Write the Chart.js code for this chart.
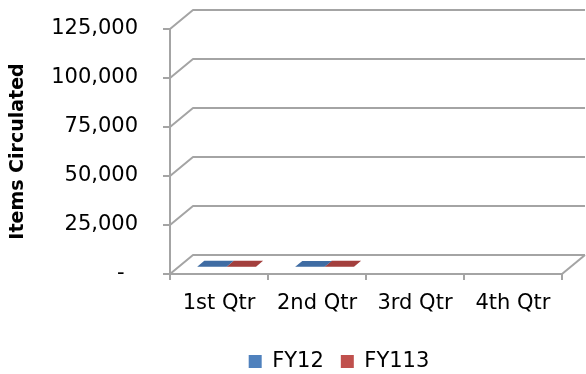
<!DOCTYPE html>
<html>
<head>
<meta charset="utf-8">
<script src="https://cdn.jsdelivr.net/npm/chart.js@4.4.1/dist/chart.umd.min.js"></script>
<style>
  html, body { margin: 0; padding: 0; background: #ffffff; }
  #wrap { width: 586px; height: 374px; }
</style>
</head>
<body>
<div id="wrap"><canvas id="chart" width="586" height="374"></canvas></div>
<script>
// Circulation per quarter
const quarters = ['1st Qtr', '2nd Qtr', '3rd Qtr', '4th Qtr'];
const fy12 = [520, 480, null, null];
const fy113 = [560, 500, null, null];
const seriesNames = ['FY12', 'FY113'];
const yTickValues = [0, 25000, 50000, 75000, 100000, 125000];
const yTickLabels = ['-  ', '25,000', '50,000', '75,000', '100,000', '125,000'];

// 3-D look: depth offset of the back wall and the slab the columns occupy
const DEPTH_X = 23;
const DEPTH_Y = -19;
const COL_FRONT = 0.33;
const COL_BACK = 0.64;
const GRID = '#a4a4a4';
const GRID_W = 2;
const FONT = 'DejaVu Sans';

const faceColors = [
  { front: '#4f81bd', top: '#3f6ca3', side: '#37608f' },
  { front: '#c0504d', top: '#a33f3d', side: '#8f3634' }
];

const wallPlugin = {
  id: 'wall3d',
  beforeDatasetsDraw(chart) {
    const { ctx, chartArea, scales } = chart;
    const y = scales.y;
    ctx.save();
    ctx.strokeStyle = GRID;
    ctx.lineWidth = GRID_W;
    ctx.lineJoin = 'round';
    const backRight = chartArea.right + DEPTH_X;
    yTickValues.forEach(v => {
      const py = y.getPixelForValue(v);
      ctx.beginPath();
      ctx.moveTo(chartArea.left, py);
      ctx.lineTo(chartArea.left + DEPTH_X, py + DEPTH_Y);
      ctx.lineTo(backRight, py + DEPTH_Y);
      ctx.stroke();
    });
    const base = y.getPixelForValue(0);
    ctx.beginPath();
    ctx.moveTo(chartArea.right, base);
    ctx.lineTo(backRight, base + DEPTH_Y);
    ctx.stroke();
    ctx.restore();
  },
  beforeDatasetDraw(chart, args) {
    const { ctx } = chart;
    const meta = args.meta;
    const colors = faceColors[args.index];
    const x0 = COL_FRONT * DEPTH_X, y0 = COL_FRONT * DEPTH_Y;
    const x1 = COL_BACK * DEPTH_X, y1 = COL_BACK * DEPTH_Y;
    ctx.save();
    meta.data.forEach((bar, i) => {
      const raw = chart.data.datasets[args.index].data[i];
      if (raw === null || raw === undefined) return;
      const { x, y, base, width } = bar.getProps(['x', 'y', 'base', 'width'], true);
      const l = x - width / 2, r = x + width / 2;
      // front face
      ctx.fillStyle = colors.front;
      ctx.fillRect(l + x0, y + y0, width, base - y);
      // side face
      ctx.fillStyle = colors.side;
      ctx.beginPath();
      ctx.moveTo(r + x0, y + y0);
      ctx.lineTo(r + x1, y + y1);
      ctx.lineTo(r + x1, base + y1);
      ctx.lineTo(r + x0, base + y0);
      ctx.closePath();
      ctx.fill();
      // top face
      ctx.fillStyle = colors.top;
      ctx.beginPath();
      ctx.moveTo(l + x0, y + y0);
      ctx.lineTo(r + x0, y + y0);
      ctx.lineTo(r + x1, y + y1);
      ctx.lineTo(l + x1, y + y1);
      ctx.closePath();
      ctx.fill();
    });
    ctx.restore();
    return false;
  }
};

// moves the legend row under the plot
const LEGEND_DX = 58;
const LEGEND_DY = 8;
const legendShift = {
  id: 'legendShift',
  afterLayout(chart) {
    const lg = chart.legend;
    if (!lg) return;
    lg.left += LEGEND_DX; lg.right += LEGEND_DX;
    lg.top += LEGEND_DY; lg.bottom += LEGEND_DY;
  }
};

new Chart(document.getElementById('chart'), {
  type: 'bar',
  data: {
    labels: quarters,
    datasets: [
      { label: seriesNames[0], data: fy12, backgroundColor: faceColors[0].front },
      { label: seriesNames[1], data: fy113, backgroundColor: faceColors[1].front }
    ]
  },
  options: {
    responsive: false,
    animation: false,
    devicePixelRatio: 1,
    layout: { padding: { top: 29, right: 24, left: 0, bottom: 0 } },
    categoryPercentage: 0.6,
    barPercentage: 1,
    plugins: {
      legend: {
        position: 'bottom',
        labels: {
          boxWidth: 13,
          boxHeight: 13,
          padding: 17,
          color: '#000000',
          font: { family: FONT, size: 21 }
        }
      },
      tooltip: { enabled: false }
    },
    scales: {
      x: {
        grid: { offset: true, drawOnChartArea: false, drawTicks: true, tickLength: 6, color: GRID, lineWidth: GRID_W },
        border: { display: true, color: GRID, width: GRID_W },
        ticks: { color: '#000000', font: { family: FONT, size: 21 }, padding: 11, maxRotation: 0 },
        afterFit(scale) {
          scale.height = scale.chart.height - 274 - scale.chart.legend.height;
        }
      },
      y: {
        min: 0,
        max: 125000,
        grid: { drawOnChartArea: false, drawTicks: true, tickLength: 7, color: GRID, lineWidth: GRID_W },
        border: { display: true, color: GRID, width: GRID_W },
        afterBuildTicks(scale) {
          scale.ticks = yTickValues.map(v => ({ value: v }));
        },
        ticks: {
          color: '#000000',
          font: { family: FONT, size: 21 },
          padding: 25,
          callback: (value) => yTickLabels[yTickValues.indexOf(value)]
        },
        title: {
          display: true,
          text: 'Items Circulated',
          color: '#000000',
          font: { family: FONT, size: 19, weight: 'bold' },
          padding: { top: 7, bottom: 0 }
        },
        afterFit(scale) {
          scale.width = 170;
          scale.paddingTop = 0;
          scale.paddingBottom = 0;
        }
      }
    }
  },
  plugins: [wallPlugin, legendShift]
});
</script>
</body>
</html>
